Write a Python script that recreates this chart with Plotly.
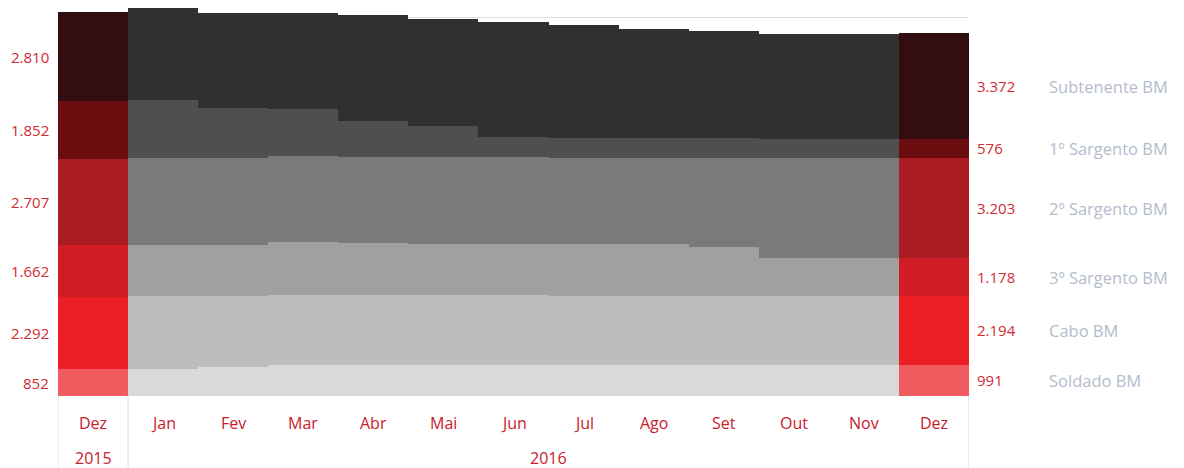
import plotly.graph_objects as go

months = ["Dez", "Jan", "Fev", "Mar", "Abr", "Mai", "Jun", "Jul", "Ago", "Set", "Out", "Nov", "Dez"]
years = ["2015", "2016"]
series_names = ["Soldado BM", "Cabo BM", "3º Sargento BM", "2º Sargento BM", "1º Sargento BM", "Subtenente BM"]

soldado = [852, 844, 926, 980, 980, 980, 980, 980, 980, 980, 985, 988, 991]
cabo = [2292, 2317, 2234, 2212, 2212, 2212, 2212, 2180, 2180, 2180, 2190, 2192, 2194]
sarg3 = [1662, 1621, 1643, 1684, 1653, 1634, 1634, 1665, 1665, 1580, 1191, 1185, 1178]
sarg2 = [2707, 2771, 2749, 2740, 2749, 2759, 2759, 2718, 2718, 2803, 3192, 3198, 3203]
sarg1 = [1852, 1823, 1580, 1485, 1144, 980, 632, 632, 632, 632, 588, 580, 576]
subten = [2810, 2926, 3034, 3043, 3356, 3403, 3643, 3580, 3476, 3413, 3350, 3355, 3372]

all_series = [soldado, cabo, sarg3, sarg2, sarg1, subten]
gray_colors = ["#d9d9d9", "#bdbdbd", "#a0a0a0", "#7a7a7a", "#4f4f4f", "#303030"]
red_colors = ["#ef5b5e", "#ec1f26", "#d01c24", "#ab1b22", "#6b0d0f", "#330e10"]

VAL_RED = "#d42a33"
MONTH_RED = "#c8202a"
NAME_GRAY = "#b4bccb"
FONT = "Segoe UI, Open Sans, Noto Sans, sans-serif"

def fmt(v):
    return f"{v:,}".replace(",", ".")

xs = list(range(len(months)))
n = len(months)

fig = go.Figure()
for vals, g, r, name in zip(all_series, gray_colors, red_colors, series_names):
    colors = [r if (i == 0 or i == n - 1) else g for i in xs]
    fig.add_trace(go.Bar(
        x=xs, y=vals, width=1.0, name=name,
        marker=dict(color=colors, line=dict(width=0)),
        hoverinfo="skip", showlegend=False,
    ))

annotations = []
cum_first = 0
cum_last = 0
for vals, name in zip(all_series, series_names):
    mid_first = cum_first + vals[0] / 2
    mid_last = cum_last + vals[-1] / 2
    cum_first += vals[0]
    cum_last += vals[-1]
    annotations.append(dict(x=-0.5, y=mid_first, xref="x", yref="y", text=fmt(vals[0]),
                            showarrow=False, xanchor="right", yanchor="middle", xshift=-7,
                            font=dict(family=FONT, size=15, color=VAL_RED)))
    annotations.append(dict(x=n - 0.5, y=mid_last, xref="x", yref="y", text=fmt(vals[-1]),
                            showarrow=False, xanchor="left", yanchor="middle", xshift=6,
                            font=dict(family=FONT, size=15, color=VAL_RED)))
    annotations.append(dict(x=n - 0.5, y=mid_last, xref="x", yref="y", text=name,
                            showarrow=False, xanchor="left", yanchor="middle", xshift=78,
                            font=dict(family=FONT, size=16.5, color=NAME_GRAY)))

for i, m in enumerate(months):
    annotations.append(dict(x=i, y=0, xref="x", yref="paper", text=m, showarrow=False,
                            xanchor="center", yanchor="middle", yshift=-27,
                            font=dict(family=FONT, size=16, color=MONTH_RED)))
annotations.append(dict(x=0, y=0, xref="x", yref="paper", text=years[0], showarrow=False,
                        xanchor="center", yanchor="middle", yshift=-62,
                        font=dict(family=FONT, size=16, color=MONTH_RED)))
annotations.append(dict(x=(1 + n - 1) / 2, y=0, xref="x", yref="paper", text=years[1], showarrow=False,
                        xanchor="center", yanchor="middle", yshift=-62,
                        font=dict(family=FONT, size=16, color=MONTH_RED)))

shapes = []
for xv in [-0.5, 0.5, n - 0.5]:
    shapes.append(dict(type="line", xref="x", yref="paper", x0=xv, x1=xv, y0=-0.2, y1=0,
                       line=dict(color="#dcdcdc", width=1)))

fig.update_layout(
    width=1176, height=460,
    margin=dict(l=50, r=215, t=0, b=72),
    barmode="stack", bargap=0,
    plot_bgcolor="white", paper_bgcolor="white",
    xaxis=dict(range=[-0.5, n - 0.5], showticklabels=False, showgrid=False, zeroline=False,
               showline=False, ticks=""),
    yaxis=dict(range=[0, 12310], showticklabels=False, dtick=2000, showgrid=True,
               gridcolor="#dedede", gridwidth=1, zeroline=False, showline=False, ticks=""),
    annotations=annotations,
    shapes=shapes,
)

fig.write_html("out.html")
